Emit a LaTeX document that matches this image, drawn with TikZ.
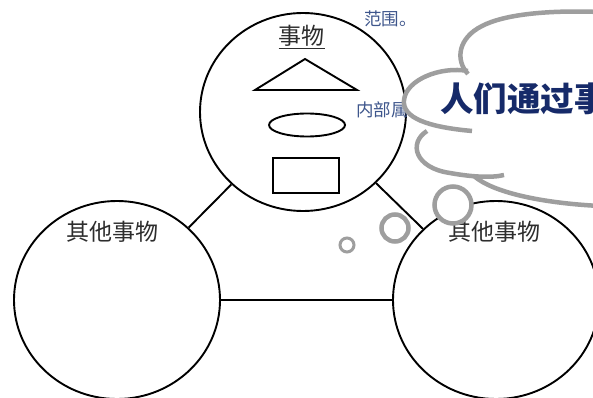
\documentclass[tikz,border=0pt]{standalone}
\usepackage{fontspec}
\newfontfamily\cjk{Noto Sans CJK SC}
\usetikzlibrary{shapes.geometric}
\definecolor{navy}{RGB}{22,42,105}
\definecolor{labblue}{RGB}{62,86,140}
\definecolor{bubgray}{RGB}{158,158,158}
\definecolor{txtgray}{RGB}{45,45,45}
\begin{document}
\begin{tikzpicture}[x=1pt,y=-1pt,
  thing/.style={draw=black, line width=1.9pt, ellipse, minimum width=206pt, minimum height=198pt, inner sep=0pt},
  conn/.style={draw=black, line width=1.9pt},
  shapeline/.style={draw=black, line width=1.9pt},
  lab/.style={font=\cjk\fontsize{23}{23}\selectfont, text=txtgray, inner sep=0pt, anchor=base},
  note/.style={font=\cjk\fontsize{17.5}{17.5}\selectfont, text=labblue, inner sep=0pt, anchor=base west},
  bubble/.style={circle, draw=bubgray, fill=white, inner sep=0pt},
  cloudline/.style={draw=bubgray, line width=4.5pt},
  cloudfill/.style={fill=white},
]
\clip (0,0) rectangle (593,398);
\fill[white] (0,0) rectangle (593,398);

% three things
\node[thing] (thingT) at (303,112) {};
\node[thing] (thingL) at (117,300) {};
\node[thing] (thingR) at (496,300) {};
\draw[conn] (thingT) -- (thingL);
\draw[conn] (thingT) -- (thingR);
\draw[conn] (thingL) -- (thingR);

% inside the top circle
\draw[shapeline] (305,59) -- (255,90) -- (357,90) -- cycle;
\node[shapeline, ellipse, minimum width=76pt, minimum height=23pt, inner sep=0pt] (ell) at (307,125) {};
\node[shapeline, rectangle, minimum width=66pt, minimum height=35pt, inner sep=0pt] (box) at (306,175.5) {};

% labels
\node[lab] (tT) at (301.5,45) {\underline{事物}};
\node[lab] (tL) at (112,240) {其他事物};
\node[lab] (tR) at (494,240) {其他事物};
\node[note] (n1) at (364,26) {范围。};
\node[note] (n2) at (356,117) {内部属};

% thought bubbles
\node[bubble, minimum size=14pt, line width=3pt] (b1) at (347,245) {};
\node[bubble, minimum size=27pt, line width=4.5pt] (b2) at (395,228) {};
\node[bubble, minimum size=37pt, line width=4.5pt] (b3) at (453,205) {};

% cloud fill
\fill[cloudfill] (468,72) .. controls (455,60) and (458,38) .. (482,26) .. controls (505,14) and (550,10) .. (600,12) -- (530,110) -- cycle;
\fill[cloudfill] (468,72) .. controls (440,66) and (406,80) .. (404,100) .. controls (402,118) and (428,127) .. (472,131) -- (530,110) -- cycle;
\fill[cloudfill] (427,131) .. controls (408,143) and (415,168) .. (450,173) .. controls (472,177) and (492,178) .. (504,175) -- (530,110) -- cycle;
\fill[cloudfill] (474,176) .. controls (492,192) and (540,203) .. (600,206) -- (530,110) -- cycle;
\fill[cloudfill] (600,12) -- (600,206) -- (530,110) -- cycle;
% cloud outline
\draw[cloudline] (468,74) .. controls (455,60) and (458,38) .. (482,26) .. controls (505,14) and (550,10) .. (600,12);
\draw[cloudline] (468,71) .. controls (440,66) and (406,80) .. (404,100) .. controls (402,118) and (428,127) .. (472,131);
\draw[cloudline] (427,131) .. controls (408,143) and (415,168) .. (450,173) .. controls (472,177) and (492,178) .. (504,175);
\draw[cloudline] (474,176) .. controls (492,192) and (540,203) .. (600,206);

\node[font=\cjk\bfseries\fontsize{33.5}{33.5}\selectfont, text=navy, inner sep=0pt, anchor=base west] (big) at (440,112) {人们通过事};
\end{tikzpicture}
\end{document}
